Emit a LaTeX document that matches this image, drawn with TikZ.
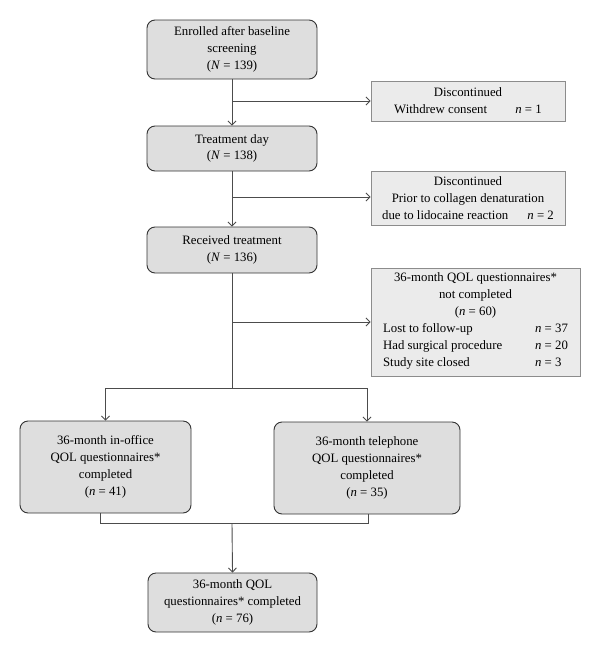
\documentclass[tikz,border=0pt]{standalone}
\usepackage{fontspec}
\setmainfont{Liberation Serif}
\usetikzlibrary{arrows.meta}
\begin{document}
\begin{tikzpicture}[x=1pt,y=-1pt,
  rbox/.style={draw=black!80,line width=0.9pt,fill=black!13,rounded corners=8pt,inner sep=0pt,align=center,
    font=\fontsize{12.8}{16.8}\selectfont},
  sbox/.style={draw=black!45,line width=0.9pt,fill=black!8,inner sep=0pt,align=center,
    font=\fontsize{12.8}{16.8}\selectfont},
  conn/.style={draw=black!70,line width=0.9pt},
  arr/.style={conn,-{Straight Barb[length=4pt,width=8pt]}}]
\useasboundingbox (0,0) rectangle (600,656);
\node[rbox,minimum width=170pt,minimum height=59pt] (enr) at (232,49.5)
  {Enrolled after baseline\\screening\\(\textit{N} = 139)};
\node[sbox,minimum width=194pt,minimum height=40pt] (d1) at (468,101)
  {Discontinued\\Withdrew consent\hspace{2.2em}\textit{n} = 1};
\node[rbox,minimum width=170pt,minimum height=45pt] (treat) at (232,148.5)
  {Treatment day\\(\textit{N} = 138)};
\node[sbox,minimum width=194pt,minimum height=54pt] (d2) at (468,198)
  {Discontinued\\Prior to collagen denaturation\\due to lidocaine reaction\hspace{1.5em}\textit{n} = 2};
\node[rbox,minimum width=170pt,minimum height=46pt] (recv) at (232,250)
  {Received treatment\\(\textit{N} = 136)};
\node[sbox,minimum width=209pt,minimum height=108pt] (nc) at (475.5,322)
  {36-month QOL questionnaires*\\not completed\\(\textit{n} = 60)\\[2pt]
   \begin{tabular}{@{}p{152pt}@{}l@{}}
   Lost to follow-up & \textit{n} = 37\\
   Had surgical procedure & \textit{n} = 20\\
   Study site closed & \textit{n} = 3
   \end{tabular}};
\node[rbox,minimum width=171pt,minimum height=92pt] (lft) at (105.5,467)
  {36-month in-office\\QOL questionnaires*\\completed\\(\textit{n} = 41)};
\node[rbox,minimum width=186pt,minimum height=92pt] (rgt) at (367,468)
  {36-month telephone\\QOL questionnaires*\\completed\\(\textit{n} = 35)};
\node[rbox,minimum width=169pt,minimum height=59pt] (fin) at (232.5,602.5)
  {36-month QOL\\questionnaires* completed\\(\textit{n} = 76)};
\coordinate (b1) at (232,101);
\coordinate (b2) at (232,197);
\coordinate (b3) at (232,322);
\coordinate (sp) at (232,388);
\coordinate (spl) at (105.5,388);
\coordinate (spr) at (367,388);
\coordinate (jl) at (100,523);
\coordinate (jr) at (368,523);
\coordinate (jm) at (232,523);
\draw[arr] (enr.south) -- (treat.north);
\draw[arr] (b1) -- (d1.west);
\draw[arr] (treat.south) -- (recv.north);
\draw[arr] (b2) -- (b2 -| d2.west);
\draw[conn] (recv.south) -- (sp);
\draw[arr] (b3) -- (nc.west);
\draw[conn] (spl) -- (spr);
\draw[arr] (spl) -- (lft.north);
\draw[arr] (spr) -- (rgt.north);
\draw[conn] (lft.south -| jl) -- (jl) -- (jr) -- (rgt.south -| jr);
\draw[arr] (jm) -- (fin.north);
\end{tikzpicture}
\end{document}
